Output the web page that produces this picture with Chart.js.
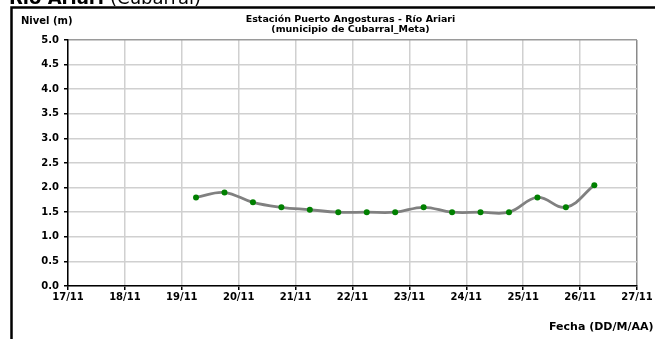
<!DOCTYPE html>
<html>
<head>
<meta charset="utf-8">
<script src="https://cdn.jsdelivr.net/npm/chart.js@4"></script>
<style>
  html, body { margin: 0; padding: 0; background: #fff; }
  canvas { display: block; }
</style>
</head>
<body>
<canvas id="nivelChart" width="655" height="339"></canvas>
<script>
// lecturas de la estación (06:00 y 18:00)
const fechas = [
  "19/11 06:00", "19/11 18:00", "20/11 06:00", "20/11 18:00", "21/11 06:00",
  "21/11 18:00", "22/11 06:00", "22/11 18:00", "23/11 06:00", "23/11 18:00",
  "24/11 06:00", "24/11 18:00", "25/11 06:00", "25/11 18:00", "26/11 06:00"
];
const niveles = [1.8, 1.9, 1.7, 1.6, 1.55, 1.5, 1.5, 1.5, 1.6, 1.5, 1.5, 1.5, 1.8, 1.6, 2.05];
const diasEje = [17, 18, 19, 20, 21, 22, 23, 24, 25, 26, 27];
const nivelesEje = [0, 0.5, 1, 1.5, 2, 2.5, 3, 3.5, 4, 4.5, 5];

const fuente = "'DejaVu Sans', sans-serif";

function aDia(fecha) {
  const [d, h] = fecha.split(" ");
  const [hh, mm] = h.split(":");
  return parseInt(d.split("/")[0]) + (parseInt(hh) + parseInt(mm) / 60) / 24;
}

const puntos = fechas.map((f, i) => ({ x: aDia(f), y: niveles[i] }));

const textos = {
  id: "textos",
  beforeDraw(chart) {
    const c = chart.ctx;
    const area = chart.chartArea;
    c.save();
    // marco
    c.strokeStyle = "#000";
    c.lineWidth = 2.5;
    c.beginPath();
    c.moveTo(11.5, 339);
    c.lineTo(11.5, 7.5);
    c.lineTo(655, 7.5);
    c.stroke();

    // encabezado cortado arriba
    c.fillStyle = "#000";
    c.textBaseline = "alphabetic";
    c.textAlign = "left";
    c.font = "bold 18px " + fuente;
    c.fillText("Río Ariari ", 9, 4);
    const w = c.measureText("Río Ariari ").width;
    c.font = "18px " + fuente;
    c.fillText("(Cubarral)", 9 + w, 4);

    c.font = "bold 10px " + fuente;
    c.textBaseline = "middle";
    c.fillText("Nivel (m)", 21, 21);

    c.textAlign = "center";
    c.font = "bold 9.5px " + fuente;
    const cx = (area.left + area.right) / 2 - 2;
    c.fillText("Estación Puerto Angosturas - Río Ariari", cx, 20);
    c.fillText("(municipio de Cubarral_Meta)", cx, 29.5);

    c.textAlign = "left";
    c.font = "bold 11px " + fuente;
    c.fillText("Fecha (DD/M/AA)", 549, 327);
    c.restore();
  }
};

document.addEventListener("DOMContentLoaded", function () {
  const ctx = document.getElementById("nivelChart").getContext("2d");
  Chart.defaults.color = "#000";
  Chart.defaults.font.family = fuente;

  new Chart(ctx, {
    type: "line",
    data: {
      datasets: [
        {
          data: puntos,
          borderColor: "#808080",
          borderWidth: 2.8,
          tension: 0.4,
          pointRadius: 3,
          pointBackgroundColor: "#008000",
          pointBorderColor: "#008000",
          pointBorderWidth: 0,
        },
      ],
    },
    options: {
      responsive: false,
      animation: false,
      layout: {
        padding: { left: 12, right: 18, top: 40, bottom: 33 },
      },
      plugins: {
        legend: { display: false },
        tooltip: { enabled: false },
      },
      scales: {
        x: {
          type: "linear",
          min: diasEje[0],
          max: diasEje[diasEje.length - 1],
          afterBuildTicks: (scale) => {
            scale.ticks = diasEje.map((v) => ({ value: v }));
          },
          afterFit: (scale) => {
            scale.height = 20;
          },
          ticks: {
            callback: (v) => v + "/11",
            font: { size: 10, weight: "bold" },
            padding: 1,
            maxRotation: 0,
          },
          grid: {
            color: (c) => (c.tick && c.tick.value === 27 ? "#8a8a8a" : "#d0d0d0"),
            lineWidth: 1.5,
            tickLength: 4,
            tickColor: "#000",
          },
          border: { color: "#000", width: 1.5 },
        },
        y: {
          min: 0,
          max: 5,
          afterBuildTicks: (scale) => {
            scale.ticks = nivelesEje.map((v) => ({ value: v }));
          },
          afterFit: (scale) => {
            scale.width = 56;
          },
          ticks: {
            callback: (v) => v.toFixed(1),
            font: { size: 10, weight: "bold" },
            padding: 5,
          },
          grid: {
            color: (c) => (c.tick && c.tick.value === 5 ? "#9a9a9a" : "#d0d0d0"),
            lineWidth: 1.5,
            tickLength: 4,
            tickColor: "#000",
          },
          border: { color: "#000", width: 1.5 },
        },
      },
    },
    plugins: [textos],
  });
});
</script>
</body>
</html>
